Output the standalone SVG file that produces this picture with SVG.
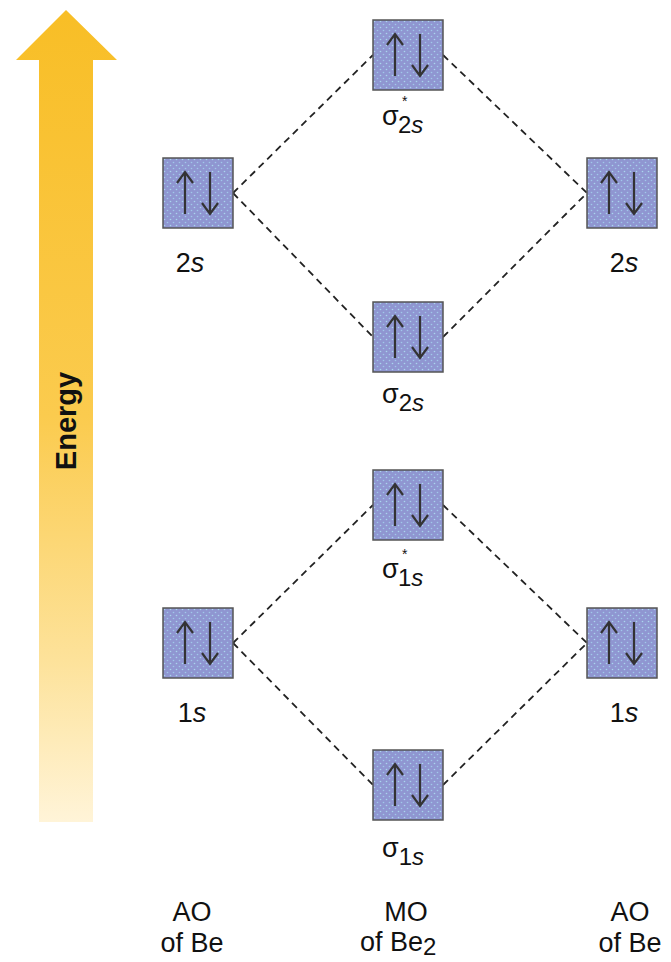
<svg xmlns="http://www.w3.org/2000/svg" width="671" height="962" viewBox="0 0 671 962">
<defs>
<linearGradient id="eg" x1="0" y1="0" x2="0" y2="1">
<stop offset="0" stop-color="#F8BE26"/>
<stop offset="0.5" stop-color="#FBCB4E"/>
<stop offset="0.8" stop-color="#FDE29A"/>
<stop offset="1" stop-color="#FFF4D8"/>
</linearGradient>
<pattern id="dots" width="6" height="6" patternUnits="userSpaceOnUse">
<rect width="6" height="6" fill="#8F96D1"/>
<circle cx="1.5" cy="1.5" r="0.8" fill="#A9D6EE"/>
<circle cx="4.5" cy="4.5" r="0.8" fill="#A0C8EA"/>
</pattern>
<g id="orb">
<rect x="0" y="0" width="70" height="70" fill="url(#dots)" stroke="#555" stroke-width="1.5"/>
<path d="M22 56 V15 M14 25 L22 14 L30 25" fill="none" stroke="#333" stroke-width="2.2"/>
<path d="M47 14 V55 M39 45 L47 56 L55 45" fill="none" stroke="#333" stroke-width="2.2"/>
</g>
</defs>
<style>
.lbl{font-family:"Liberation Sans",Arial,sans-serif;font-size:27px;fill:#111}
.it{font-style:italic}
.sub{font-size:24px}
.star{font-size:14px}
.dash{stroke:#222;stroke-width:1.8;stroke-dasharray:7 5;fill:none}
</style>
<g id="energy-arrow">
<polygon points="66,10 117,60 93,60 93,822 39,822 39,60 16,60" fill="url(#eg)"/>
<text transform="translate(76,421) rotate(-90)" text-anchor="middle" style="font-family:'Liberation Sans',Arial,sans-serif;font-weight:bold;font-size:29px;fill:#111">Energy</text>
</g>
<g id="connectors">
<line class="dash" x1="233" y1="193" x2="373" y2="55"/>
<line class="dash" x1="233" y1="193" x2="373" y2="337"/>
<line class="dash" x1="443" y1="55" x2="587" y2="193"/>
<line class="dash" x1="443" y1="337" x2="587" y2="193"/>
<line class="dash" x1="233" y1="643" x2="373" y2="505"/>
<line class="dash" x1="233" y1="643" x2="373" y2="785"/>
<line class="dash" x1="443" y1="505" x2="587" y2="643"/>
<line class="dash" x1="443" y1="785" x2="587" y2="643"/>
</g>
<g id="ao-left-2s">
<use href="#orb" x="163" y="158"/>
<text class="lbl" x="190" y="272" text-anchor="middle">2<tspan class="it">s</tspan></text>
</g>
<g id="ao-right-2s">
<use href="#orb" x="587" y="158"/>
<text class="lbl" x="624" y="272" text-anchor="middle">2<tspan class="it">s</tspan></text>
</g>
<g id="mo-sigma-star-2s">
<use href="#orb" x="373" y="20"/>
<text class="lbl" x="382" y="125">σ<tspan class="star" x="402" dy="-19">*</tspan><tspan class="sub" x="398" dy="27">2<tspan class="it">s</tspan></tspan></text>
</g>
<g id="mo-sigma-2s">
<use href="#orb" x="373" y="302"/>
<text class="lbl" x="382" y="403">σ<tspan class="sub" dy="8">2<tspan class="it">s</tspan></tspan></text>
</g>
<g id="mo-sigma-star-1s">
<use href="#orb" x="373" y="470"/>
<text class="lbl" x="382" y="578">σ<tspan class="star" x="402" dy="-19">*</tspan><tspan class="sub" x="398" dy="27">1<tspan class="it">s</tspan></tspan></text>
</g>
<g id="ao-left-1s">
<use href="#orb" x="163" y="608"/>
<text class="lbl" x="192" y="722" text-anchor="middle">1<tspan class="it">s</tspan></text>
</g>
<g id="ao-right-1s">
<use href="#orb" x="587" y="608"/>
<text class="lbl" x="624" y="722" text-anchor="middle">1<tspan class="it">s</tspan></text>
</g>
<g id="mo-sigma-1s">
<use href="#orb" x="373" y="750"/>
<text class="lbl" x="382" y="857">σ<tspan class="sub" dy="8">1<tspan class="it">s</tspan></tspan></text>
</g>
<g id="caption-ao-left">
<text class="lbl" x="192" y="921" text-anchor="middle">AO</text>
<text class="lbl" x="192" y="952" text-anchor="middle">of Be</text>
</g>
<g id="caption-mo">
<text class="lbl" x="406" y="921" text-anchor="middle">MO</text>
<text class="lbl" x="360" y="951">of Be<tspan class="sub" dy="4">2</tspan></text>
</g>
<g id="caption-ao-right">
<text class="lbl" x="630" y="921" text-anchor="middle">AO</text>
<text class="lbl" x="630" y="952" text-anchor="middle">of Be</text>
</g>
</svg>
